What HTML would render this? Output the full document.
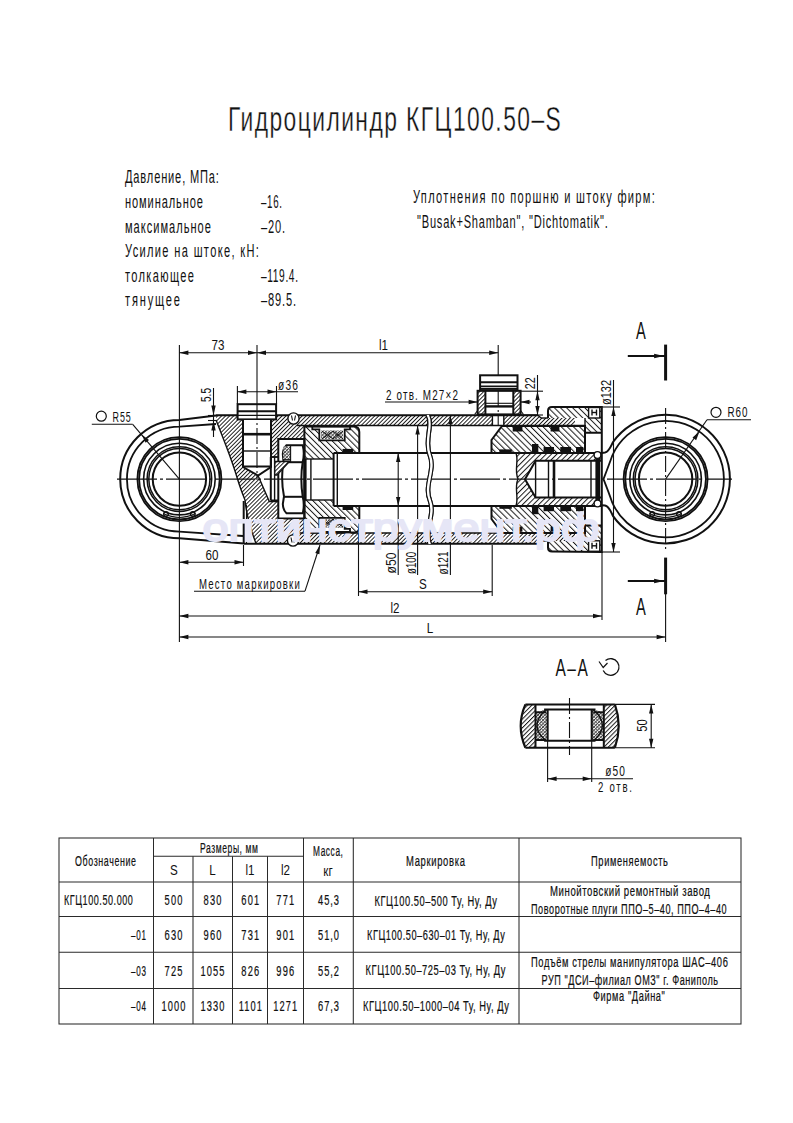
<!DOCTYPE html><html><head><meta charset="utf-8"><style>html,body{margin:0;padding:0;background:#fff;}svg{display:block;}text{font-family:"Liberation Sans",sans-serif;}</style></head><body>
<svg width="793" height="1123" viewBox="0 0 793 1123">
<defs>
<pattern id="hA" patternUnits="userSpaceOnUse" width="2.85" height="2.85" patternTransform="rotate(45)"><rect width="2.85" height="2.85" fill="#fff"/><rect x="0" y="0" width="0.95" height="2.85" fill="#1a1a1a"/></pattern>
<pattern id="hB" patternUnits="userSpaceOnUse" width="4.3" height="4.3" patternTransform="rotate(-45)"><rect width="4.3" height="4.3" fill="#fff"/><rect x="0" y="0" width="1.0" height="4.3" fill="#1a1a1a"/></pattern>
<pattern id="hC" patternUnits="userSpaceOnUse" width="3.8" height="3.8" patternTransform="rotate(45)"><rect width="3.8" height="3.8" fill="#fff"/><rect x="0" y="0" width="1.0" height="3.8" fill="#1a1a1a"/></pattern>
<pattern id="hE" patternUnits="userSpaceOnUse" width="3.1" height="3.1" patternTransform="rotate(45)"><rect width="3.1" height="3.1" fill="#fff"/><rect x="0" y="0" width="1.0" height="3.1" fill="#1a1a1a"/></pattern>
<pattern id="hF" patternUnits="userSpaceOnUse" width="2.4" height="2.4" patternTransform="rotate(45)"><rect width="2.4" height="2.4" fill="#fff"/><rect x="0" y="0" width="0.9" height="2.4" fill="#333"/><rect x="0" y="0" width="2.4" height="0.7" fill="#555"/></pattern>
<pattern id="hD" patternUnits="userSpaceOnUse" width="2.5" height="2.5"><rect width="2.5" height="2.5" fill="#fff"/><rect width="1" height="1" fill="#555"/></pattern>
</defs>
<text transform="translate(228.00 131.00) scale(0.654 1)" x="0" y="0" font-size="34.88" letter-spacing="2.212" fill="#111" stroke="#fff" stroke-width="0.35">Гидроцилиндр КГЦ100.50–S</text>
<text transform="translate(125.00 183.00) scale(0.620 1)" x="0" y="0" font-size="17.88" letter-spacing="1.363" fill="#111">Давление, МПа:</text>
<text transform="translate(125.00 208.00) scale(0.620 1)" x="0" y="0" font-size="17.88" letter-spacing="1.440" fill="#111">номинальное</text>
<text transform="translate(261.00 208.00) scale(0.543 1)" x="0" y="0" font-size="17.88" letter-spacing="1.289" fill="#111">–16.</text>
<text transform="translate(125.00 233.00) scale(0.620 1)" x="0" y="0" font-size="17.88" letter-spacing="1.618" fill="#111">максимальное</text>
<text transform="translate(261.00 233.00) scale(0.620 1)" x="0" y="0" font-size="17.88" letter-spacing="1.306" fill="#111">–20.</text>
<text transform="translate(125.00 257.00) scale(0.620 1)" x="0" y="0" font-size="17.88" letter-spacing="2.161" fill="#111">Усилие на штоке, кН:</text>
<text transform="translate(125.00 282.00) scale(0.620 1)" x="0" y="0" font-size="17.88" letter-spacing="2.171" fill="#111">толкающее</text>
<text transform="translate(261.00 282.00) scale(0.571 1)" x="0" y="0" font-size="17.88" letter-spacing="1.080" fill="#111">–119.4.</text>
<text transform="translate(125.00 306.00) scale(0.620 1)" x="0" y="0" font-size="17.88" letter-spacing="2.939" fill="#111">тянущее</text>
<text transform="translate(261.00 306.00) scale(0.620 1)" x="0" y="0" font-size="17.88" letter-spacing="1.350" fill="#111">–89.5.</text>
<text transform="translate(413.00 203.00) scale(0.620 1)" x="0" y="0" font-size="17.88" letter-spacing="2.109" fill="#111">Уплотнения по поршню и штоку фирм:</text>
<text transform="translate(417.00 228.00) scale(0.620 1)" x="0" y="0" font-size="17.88" letter-spacing="1.258" fill="#111">"Busak+Shamban", "Dichtomatik".</text>
<g stroke="#111" fill="none" stroke-linecap="butt">
<path d="M286 415 L538 415 L541 418 L575 418 L575 425.5 L286 425.5 Z" fill="url(#hA)" stroke="none"/>
<path d="M286 543.5 L538 543.5 L541 541 L575 541 L575 533 L286 533 Z" fill="url(#hA)" stroke="none"/>
<path d="M216 416 L243 416 L243 467 L258 475.5 L269.3 501.5 L278.3 501.5 L278.3 518.5 L304.4 518.5 L304.4 543.5 L256 543.5 C250 528 246 510 245 500 C241 490 239 484 237.5 479 C232 460 224 440 216 420 Z" fill="url(#hA)" stroke="none"/>
<path d="M271 416 L304.4 416 L304.4 439 L278.3 439 L278.3 457 L271 457 Z" fill="url(#hA)" stroke="none"/>
<path d="M304.4 426.5 L354 426.5 Q359.3 426.5 359.3 432 L359.3 452.9 L333.6 452.9 L333.6 459 L304.4 459 Z" fill="url(#hB)" stroke="none"/>
<path d="M304.4 532.5 L354 532.5 Q359.3 532.5 359.3 527 L359.3 506 L333.6 506 L333.6 500 L304.4 500 Z" fill="url(#hB)" stroke="none"/>
<path d="M491.5 452.9 L491.5 440 L502 426 L585 426 L585 452.9 Z" fill="url(#hB)" stroke="none"/>
<path d="M491.5 506 L491.5 519 L502 533 L585 533 L585 506 Z" fill="url(#hB)" stroke="none"/>
<path d="M516 452.9 L601.8 452.9 L601.8 460.8 L535.6 460.8 L525 479.3 L535.6 497.6 L601.8 497.6 L601.8 506 L516 506 C519 497 514 488 518 479 C514 470 519 461 516 452.9 Z" fill="url(#hC)" stroke="none"/>
<path d="M548 411 Q548 407 552 407 L601.8 407 L601.8 432.7 L585 432.7 L585 418 L548 418 Z" fill="url(#hB)" stroke="none"/>
<path d="M548 547.5 Q548 551.5 552 551.5 L601.8 551.5 L601.8 525.5 L585 525.5 L585 541 L548 541 Z" fill="url(#hB)" stroke="none"/>
<path d="M478.1 391 L485.2 391 L485.2 414.5 L478.1 414.5 Z" fill="url(#hA)" stroke="none"/>
<path d="M513.5 391 L520.3 391 L520.3 414.5 L513.5 414.5 Z" fill="url(#hA)" stroke="none"/>
<rect x="492.4" y="415.5" width="11.4" height="10" stroke-width="0" fill="#fff" stroke="none"/>
<path d="M312.3 426.3 L312.3 429.3 L319.3 429.3 L319.3 440.3 L344.7 440.3 L344.7 429.3 L350 429.3 L350 426.3 Z" stroke-width="1.8" fill="#fff"/>
<path d="M321 430.5 L343 430.5 L343 439 L321 439 Z" fill="url(#hF)" stroke="none"/>
<path d="M322 431 L333 439 L343 431 M322 439 L333 431 L343 439" stroke-width="1" fill="none"/>
<path d="M312.3 531.9 L312.3 528.9 L319.3 528.9 L319.3 517.9 L344.7 517.9 L344.7 528.9 L350 528.9 L350 531.9 Z" stroke-width="1.8" fill="#fff"/>
<path d="M321 527.7 L343 527.7 L343 519.2 L321 519.2 Z" fill="url(#hF)" stroke="none"/>
<path d="M322 527.2 L333 519.2 L343 527.2 M322 519.2 L333 527.2 L343 519.2" stroke-width="1" fill="none"/>
<line x1="216" y1="415.2" x2="538" y2="415.2" stroke-width="2"/>
<line x1="538" y1="415.2" x2="541" y2="418" stroke-width="1.4"/>
<line x1="541" y1="418" x2="548" y2="418" stroke-width="1.4"/>
<line x1="297" y1="425.5" x2="585" y2="425.5" stroke-width="1.4"/>
<line x1="244" y1="543.7" x2="538" y2="543.7" stroke-width="2"/>
<line x1="538" y1="543.7" x2="541" y2="541" stroke-width="1.4"/>
<line x1="541" y1="541" x2="548" y2="541" stroke-width="1.4"/>
<line x1="297" y1="533" x2="585" y2="533" stroke-width="1.4"/>
<circle cx="293.5" cy="418.5" r="5.6" stroke-width="1.4" fill="#fff"/>
<line x1="291.5" y1="415.5" x2="292.5" y2="420.5" stroke-width="1.1"/>
<line x1="295.5" y1="415.5" x2="294.5" y2="420.5" stroke-width="1.1"/>
<circle cx="293" cy="540.5" r="5.6" stroke-width="1.4" fill="#fff"/>
<line x1="291" y1="537.5" x2="292" y2="542.5" stroke-width="1.1"/>
<line x1="295" y1="537.5" x2="294" y2="542.5" stroke-width="1.1"/>
<path d="M216 420 C224 440 232 460 237.5 479 C239 484 241 490 245 500 C246 510 250 528 256 543.5" stroke-width="1.4" fill="none"/>
<line x1="243.7" y1="501" x2="243.7" y2="543.5" stroke-width="2"/>
<line x1="246.5" y1="505" x2="246.5" y2="543.5" stroke-width="1.1"/>
<rect x="237.6" y="404.2" width="38.5" height="15.2" stroke-width="2" fill="#fff"/>
<line x1="238" y1="411.3" x2="276" y2="411.3" stroke-width="2"/>
<line x1="238" y1="415.4" x2="276" y2="415.4" stroke-width="1.4"/>
<path d="M243 420 L243 467 L258 475.5 L271 467 L271 420" stroke-width="2" fill="#fff"/>
<line x1="243" y1="434.2" x2="271" y2="434.2" stroke-width="2.6"/>
<line x1="243" y1="451" x2="271" y2="451" stroke-width="1.4"/>
<line x1="243" y1="466.5" x2="271" y2="466.5" stroke-width="2"/>
<path d="M258 475.5 L269.3 501.5 L278.3 501.5" stroke-width="1.4" fill="none"/>
<path d="M271 467 L271 457 L278.3 457" stroke-width="1.4" fill="none"/>
<line x1="270.8" y1="457" x2="270.8" y2="500.5" stroke-width="2"/>
<line x1="274.6" y1="457" x2="274.6" y2="500.5" stroke-width="1.4"/>
<line x1="270.8" y1="500.5" x2="278.6" y2="500.5" stroke-width="2"/>
<line x1="270.8" y1="457" x2="278.3" y2="457" stroke-width="1.4"/>
<rect x="278.3" y="439" width="26.1" height="79.5" stroke-width="2" fill="#fff"/>
<path d="M286.5 445.2 L302.7 445.2 Q304.8 453.5 302.7 462 Q300 479 302.7 496.5 Q304.8 505 302.7 513.3 L286.5 513.3 Q283 510 282.8 504 L284 496.5 Q280.5 479 283.5 462 L282.8 454 Q283 449 286.5 445.2 Z" stroke-width="2" fill="none"/>
<line x1="283" y1="462.2" x2="303.5" y2="462.2" stroke-width="2"/>
<line x1="283" y1="496.8" x2="303.5" y2="496.8" stroke-width="2"/>
<path d="M283.5 446.5 L290.6 446.5 L290.6 459.6 L283.2 459.6 Z" fill="url(#hF)" stroke="none"/>
<path d="M274.8 461.5 L289.5 461.5 L277 475 L274.8 475 Z" fill="url(#hA)" stroke="#111" stroke-width="1.3"/>
<line x1="283" y1="459.8" x2="291" y2="459.8" stroke-width="1.4"/>
<line x1="290.6" y1="446" x2="290.6" y2="462" stroke-width="1.1"/>
<line x1="305.6" y1="459" x2="305.6" y2="500" stroke-width="2"/>
<line x1="310.9" y1="459" x2="310.9" y2="500" stroke-width="1.4"/>
<line x1="333.6" y1="453" x2="333.6" y2="506" stroke-width="2"/>
<line x1="337.3" y1="453" x2="337.3" y2="506" stroke-width="1.4"/>
<line x1="304.4" y1="459" x2="333.6" y2="459" stroke-width="1.4"/>
<line x1="304.4" y1="500" x2="333.6" y2="500" stroke-width="1.4"/>
<path d="M304.4 426.5 L354 426.5 Q359.3 426.5 359.3 432 L359.3 452.9" stroke-width="2" fill="none"/>
<path d="M304.4 532.5 L354 532.5 Q359.3 532.5 359.3 527 L359.3 506" stroke-width="2" fill="none"/>
<line x1="304.4" y1="425.5" x2="304.4" y2="533" stroke-width="2"/>
<rect x="342.6" y="448.9" width="10.6" height="4" stroke-width="0" fill="#111" stroke="none"/>
<rect x="342.6" y="506" width="10.6" height="4" stroke-width="0" fill="#111" stroke="none"/>
<line x1="333.6" y1="452.9" x2="602" y2="452.9" stroke-width="2"/>
<line x1="333.6" y1="506" x2="602" y2="506" stroke-width="2"/>
<path d="M491.5 452.9 L491.5 440 L502 426 L585 426 L585 452.9" stroke-width="2" fill="none"/>
<path d="M491.5 506 L491.5 519 L502 533 L585 533 L585 506" stroke-width="2" fill="none"/>
<rect x="512.7" y="426.5" width="9.7" height="5" stroke-width="0" fill="#111" stroke="none"/>
<rect x="512.7" y="526.7" width="9.7" height="5" stroke-width="0" fill="#111" stroke="none"/>
<rect x="550.6" y="426.5" width="8.8" height="5" stroke-width="0" fill="#111" stroke="none"/>
<rect x="550.6" y="526.7" width="8.8" height="5" stroke-width="0" fill="#111" stroke="none"/>
<rect x="499.4" y="449.4" width="12.4" height="3.5" stroke-width="0" fill="#111" stroke="none"/>
<rect x="499.4" y="505.3" width="12.4" height="3.5" stroke-width="0" fill="#111" stroke="none"/>
<rect x="532" y="444" width="6.3" height="9" stroke-width="0" fill="#111" stroke="none"/>
<rect x="532" y="505.2" width="6.3" height="9" stroke-width="0" fill="#111" stroke="none"/>
<rect x="543.6" y="447" width="10.4" height="6" stroke-width="0" fill="#111" stroke="none"/>
<rect x="543.6" y="505.2" width="10.4" height="6" stroke-width="0" fill="#111" stroke="none"/>
<rect x="560.3" y="447" width="10.7" height="6" stroke-width="0" fill="#111" stroke="none"/>
<rect x="560.3" y="505.2" width="10.7" height="6" stroke-width="0" fill="#111" stroke="none"/>
<rect x="576" y="447" width="7.3" height="6" stroke-width="0" fill="#111" stroke="none"/>
<rect x="576" y="505.2" width="7.3" height="6" stroke-width="0" fill="#111" stroke="none"/>
<path d="M516 452.9 C519 461 514 470 518 479 C514 488 519 497 516 506" stroke-width="1.4" fill="none"/>
<path d="M601.8 460.8 L535.6 460.8 L525 479.3 L535.6 497.6 L601.8 497.6" stroke-width="2" fill="none"/>
<line x1="535.6" y1="460.8" x2="535.6" y2="497.6" stroke-width="1.4"/>
<line x1="548.5" y1="460.8" x2="548.5" y2="497.6" stroke-width="1.4"/>
<line x1="554" y1="460.8" x2="554" y2="497.6" stroke-width="2.6"/>
<line x1="591" y1="460.8" x2="591" y2="497.6" stroke-width="1.4"/>
<line x1="597.8" y1="456" x2="597.8" y2="503" stroke-width="4.8"/>
<circle cx="597.5" cy="455" r="3.4" stroke-width="1.4" fill="#fff"/>
<circle cx="597.5" cy="503.5" r="3.4" stroke-width="1.4" fill="#fff"/>
<path d="M585 432.7 L601.8 432.7 M548 418 L548 411 Q548 407 552 407 L601.8 407 L601.8 552 L552 551.5 Q548 551.5 548 547.5 L548 541" stroke-width="2" fill="none"/>
<line x1="585" y1="418" x2="585" y2="452.9" stroke-width="1.4"/>
<line x1="585" y1="506" x2="585" y2="541" stroke-width="1.4"/>
<line x1="585" y1="525.5" x2="601.8" y2="525.5" stroke-width="2"/>
<rect x="588.6" y="407.5" width="11.2" height="10.5" stroke-width="1.4" fill="#fff"/>
<line x1="592" y1="409.5" x2="592" y2="415.5" stroke-width="1.4"/>
<line x1="596.5" y1="409.5" x2="596.5" y2="415.5" stroke-width="1.4"/>
<line x1="592" y1="412.5" x2="596.5" y2="412.5" stroke-width="1.4"/>
<rect x="588.6" y="540.8" width="11.2" height="10.5" stroke-width="1.4" fill="#fff"/>
<line x1="592" y1="542.8" x2="592" y2="548.8" stroke-width="1.4"/>
<line x1="596.5" y1="542.8" x2="596.5" y2="548.8" stroke-width="1.4"/>
<line x1="592" y1="545.8" x2="596.5" y2="545.8" stroke-width="1.4"/>
<rect x="480.1" y="375.3" width="37.4" height="15" stroke-width="2" fill="#fff"/>
<line x1="480.5" y1="382.2" x2="517" y2="382.2" stroke-width="2"/>
<line x1="480.5" y1="386.2" x2="517" y2="386.2" stroke-width="1.4"/>
<line x1="480.5" y1="388.7" x2="517" y2="388.7" stroke-width="2"/>
<rect x="477.6" y="390.8" width="43" height="23.6" stroke-width="2" fill="none"/>
<line x1="485.4" y1="391" x2="485.4" y2="414.5" stroke-width="2"/>
<line x1="513.3" y1="391" x2="513.3" y2="414.5" stroke-width="2"/>
<line x1="485.4" y1="406.4" x2="513.3" y2="406.4" stroke-width="2.4"/>
<line x1="485.4" y1="403.3" x2="513.3" y2="403.3" stroke-width="1.1"/>
<path d="M474.6 414.5 L478 410 M523.5 414.5 L520.3 410" stroke-width="1.1" fill="none"/>
<line x1="492.4" y1="415.5" x2="492.4" y2="425.5" stroke-width="1.4"/>
<line x1="503.8" y1="415.5" x2="503.8" y2="425.5" stroke-width="1.4"/>
<path d="M426 415 C432 425 422 440 428 455 C434 470 422 485 428 500 C434 515 422 530 428 544" stroke-width="1.1" fill="none"/>
<path d="M429.5 415 C435.5 425 425.5 440 431.5 455 C437.5 470 425.5 485 431.5 500 C437.5 515 425.5 530 431.5 544" stroke-width="1.1" fill="none"/>
<circle cx="179.4" cy="479.1" r="40.3" stroke-width="1.8" fill="none"/>
<circle cx="179.4" cy="479.1" r="42" stroke-width="1.8" fill="none"/>
<circle cx="179.4" cy="479.1" r="35.8" stroke-width="1.6" fill="none"/>
<circle cx="179.4" cy="479.1" r="32.3" stroke-width="1.5" fill="none"/>
<circle cx="179.4" cy="479.1" r="30.6" stroke-width="1.5" fill="none"/>
<circle cx="179.4" cy="479.1" r="26.7" stroke-width="2" fill="none"/>
<circle cx="166" cy="514" r="2.3" stroke-width="1.4" fill="none"/>
<circle cx="192.8" cy="514" r="2.3" stroke-width="1.4" fill="none"/>
<path d="M163.4 513.6 A 37 37 0 0 0 195.4 513.6" stroke-width="1.1" fill="none"/>
<circle cx="665.6" cy="479.1" r="40.3" stroke-width="1.8" fill="none"/>
<circle cx="665.6" cy="479.1" r="42" stroke-width="1.8" fill="none"/>
<circle cx="665.6" cy="479.1" r="35.8" stroke-width="1.6" fill="none"/>
<circle cx="665.6" cy="479.1" r="32.3" stroke-width="1.5" fill="none"/>
<circle cx="665.6" cy="479.1" r="30.6" stroke-width="1.5" fill="none"/>
<circle cx="665.6" cy="479.1" r="26.7" stroke-width="2" fill="none"/>
<circle cx="652.2" cy="514" r="2.3" stroke-width="1.4" fill="none"/>
<circle cx="679" cy="514" r="2.3" stroke-width="1.4" fill="none"/>
<path d="M649.6 513.6 A 37 37 0 0 0 681.6 513.6" stroke-width="1.1" fill="none"/>
<path d="M216 415.5 L179.4 419.9 A 1 1 0 0 0 179.4 538.3 L244 543.5" stroke-width="2" fill="none"/>
<path d="M216 424 L179.4 426.7 A 1 1 0 0 0 179.4 531.6 L243 536" stroke-width="1.8" fill="none"/>
<path d="M602 452.9 L605 452.6 C609 452 611 446 612.9 442.3 A 64.3 64.3 0 1 1 612.9 515.9 C611 512 609 506 605 505.6 L602 505.3" stroke-width="2" fill="none"/>
<path d="M603.5 479.1 C607 470 610 462 612.3 455.5 A 58.3 58.3 0 1 1 612.3 502.7 C610 496 607 488 603.5 479.1" stroke-width="1.8" fill="none"/>
<g stroke-dasharray="40 3 3 3">
<line x1="117" y1="479.1" x2="732" y2="479.1" stroke-width="1.1"/>
</g>
<line x1="179.4" y1="345" x2="179.4" y2="642" stroke-width="1.1"/>
<g stroke-dasharray="16 3 2 3">
<line x1="665.6" y1="408" x2="665.6" y2="550" stroke-width="1.1"/>
<line x1="257" y1="404" x2="257" y2="480" stroke-width="1.1"/>
<line x1="498.2" y1="391" x2="498.2" y2="426" stroke-width="1.1"/>
<line x1="569.5" y1="698" x2="569.5" y2="755" stroke-width="1.1"/>
</g>
<line x1="665.6" y1="560" x2="665.6" y2="642" stroke-width="1.1"/>
<line x1="179.4" y1="352.7" x2="498.2" y2="352.7" stroke-width="1.1"/>
<path d="M179.40 352.70 L188.40 350.50 L188.40 354.90 Z" fill="#111" stroke="none"/>
<path d="M257.00 352.70 L248.00 354.90 L248.00 350.50 Z" fill="#111" stroke="none"/>
<path d="M257.00 352.70 L266.00 350.50 L266.00 354.90 Z" fill="#111" stroke="none"/>
<path d="M498.20 352.70 L489.20 354.90 L489.20 350.50 Z" fill="#111" stroke="none"/>
<line x1="257" y1="345" x2="257" y2="404" stroke-width="1.1"/>
<line x1="498.2" y1="345" x2="498.2" y2="375" stroke-width="1.1"/>
<line x1="237.4" y1="386" x2="237.4" y2="404" stroke-width="1.1"/>
<line x1="276.5" y1="386" x2="276.5" y2="404" stroke-width="1.1"/>
<line x1="237.4" y1="391.8" x2="298" y2="391.8" stroke-width="1.1"/>
<path d="M237.40 391.80 L246.40 389.60 L246.40 394.00 Z" fill="#111" stroke="none"/>
<path d="M276.50 391.80 L267.50 394.00 L267.50 389.60 Z" fill="#111" stroke="none"/>
<line x1="213.5" y1="388" x2="213.5" y2="437" stroke-width="1.1"/>
<path d="M213.50 415.50 L211.30 405.50 L215.70 405.50 Z" fill="#111" stroke="none"/>
<path d="M213.50 420.50 L215.70 430.50 L211.30 430.50 Z" fill="#111" stroke="none"/>
<line x1="208" y1="415.5" x2="237.4" y2="415.5" stroke-width="1.1"/>
<line x1="208" y1="420.5" x2="216" y2="420.5" stroke-width="1.1"/>
<line x1="385" y1="402" x2="478" y2="402" stroke-width="1.1"/>
<path d="M477.60 402.00 L468.60 404.20 L468.60 399.80 Z" fill="#111" stroke="none"/>
<line x1="520.5" y1="402" x2="531" y2="402" stroke-width="1.1"/>
<path d="M520.50 402.00 L529.50 399.80 L529.50 404.20 Z" fill="#111" stroke="none"/>
<line x1="521" y1="391.2" x2="543" y2="391.2" stroke-width="1.1"/>
<line x1="521" y1="415" x2="543" y2="415" stroke-width="1.1"/>
<line x1="537.5" y1="375" x2="537.5" y2="416" stroke-width="1.1"/>
<path d="M537.50 391.20 L539.70 400.20 L535.30 400.20 Z" fill="#111" stroke="none"/>
<path d="M537.50 415.00 L535.30 406.00 L539.70 406.00 Z" fill="#111" stroke="none"/>
<line x1="602" y1="407" x2="620" y2="407" stroke-width="1.1"/>
<line x1="602" y1="552" x2="620" y2="552" stroke-width="1.1"/>
<line x1="613.5" y1="380" x2="613.5" y2="552" stroke-width="1.1"/>
<path d="M613.50 407.00 L615.70 416.00 L611.30 416.00 Z" fill="#111" stroke="none"/>
<path d="M613.50 552.00 L611.30 543.00 L615.70 543.00 Z" fill="#111" stroke="none"/>
<line x1="243.5" y1="545" x2="243.5" y2="566" stroke-width="1.1"/>
<line x1="179.4" y1="562.2" x2="243.5" y2="562.2" stroke-width="1.1"/>
<path d="M179.40 562.20 L188.40 560.00 L188.40 564.40 Z" fill="#111" stroke="none"/>
<path d="M243.50 562.20 L234.50 564.40 L234.50 560.00 Z" fill="#111" stroke="none"/>
<line x1="398.2" y1="452.9" x2="398.2" y2="575" stroke-width="1.1"/>
<path d="M398.20 452.90 L400.40 461.90 L396.00 461.90 Z" fill="#111" stroke="none"/>
<path d="M398.20 506.00 L396.00 497.00 L400.40 497.00 Z" fill="#111" stroke="none"/>
<line x1="417.6" y1="425.5" x2="417.6" y2="575" stroke-width="1.1"/>
<path d="M417.60 425.50 L419.80 434.50 L415.40 434.50 Z" fill="#111" stroke="none"/>
<line x1="450.4" y1="415.2" x2="450.4" y2="575" stroke-width="1.1"/>
<path d="M450.40 415.20 L452.60 424.20 L448.20 424.20 Z" fill="#111" stroke="none"/>
<line x1="358.5" y1="533" x2="358.5" y2="596" stroke-width="1.1"/>
<line x1="492.2" y1="545" x2="492.2" y2="596" stroke-width="1.1"/>
<line x1="358.5" y1="591.8" x2="492.2" y2="591.8" stroke-width="1.1"/>
<path d="M358.50 591.80 L367.50 589.60 L367.50 594.00 Z" fill="#111" stroke="none"/>
<path d="M492.20 591.80 L483.20 594.00 L483.20 589.60 Z" fill="#111" stroke="none"/>
<line x1="602" y1="552" x2="602" y2="620" stroke-width="1.1"/>
<line x1="179.4" y1="616" x2="602" y2="616" stroke-width="1.1"/>
<path d="M179.40 616.00 L188.40 613.80 L188.40 618.20 Z" fill="#111" stroke="none"/>
<path d="M602.00 616.00 L593.00 618.20 L593.00 613.80 Z" fill="#111" stroke="none"/>
<line x1="179.4" y1="637" x2="665.6" y2="637" stroke-width="1.1"/>
<path d="M179.40 637.00 L188.40 634.80 L188.40 639.20 Z" fill="#111" stroke="none"/>
<path d="M665.60 637.00 L656.60 639.20 L656.60 634.80 Z" fill="#111" stroke="none"/>
<line x1="194" y1="591.2" x2="305" y2="591.2" stroke-width="1.1"/>
<line x1="305" y1="591.2" x2="320" y2="545" stroke-width="1.1"/>
<path d="M320.00 545.00 L319.44 554.25 L315.23 552.94 Z" fill="#111" stroke="none"/>
<line x1="91.8" y1="424.3" x2="132.7" y2="424.3" stroke-width="1.1"/>
<line x1="132.7" y1="424.3" x2="179.4" y2="479.1" stroke-width="1.1"/>
<path d="M141.50 434.50 L149.01 439.93 L145.65 442.78 Z" fill="#111" stroke="none"/>
<circle cx="101.3" cy="416.2" r="5" stroke-width="1.2" fill="none"/>
<line x1="707" y1="419.8" x2="751" y2="419.8" stroke-width="1.1"/>
<line x1="707" y1="419.8" x2="665.6" y2="479.1" stroke-width="1.1"/>
<path d="M699.50 431.50 L696.12 440.13 L692.52 437.59 Z" fill="#111" stroke="none"/>
<circle cx="716" cy="412.3" r="5" stroke-width="1.2" fill="none"/>
<line x1="665.6" y1="344.6" x2="665.6" y2="380.5" stroke-width="3"/>
<line x1="627.8" y1="356" x2="665.6" y2="356" stroke-width="1.8"/>
<path d="M664.10 356.00 L654.10 358.30 L654.10 353.70 Z" fill="#111" stroke="none"/>
<line x1="665.6" y1="557.6" x2="665.6" y2="594.3" stroke-width="3"/>
<line x1="627.8" y1="581" x2="665.6" y2="581" stroke-width="1.8"/>
<path d="M664.10 581.00 L654.10 583.30 L654.10 578.70 Z" fill="#111" stroke="none"/>
<path d="M525.4 704.4 Q516 726 525.4 747.7 L535.5 747.7 L535.5 704.4 Z" fill="url(#hE)" stroke="none"/>
<path d="M614.9 704.4 Q622.5 726 614.9 747.7 L603.8 747.7 L603.8 704.4 Z" fill="url(#hE)" stroke="none"/>
<path d="M536 712.3 L546 709.6 L547.6 709.6 L547.6 740.8 L546 740.8 L536 740 Z" fill="url(#hF)" stroke="none"/>
<path d="M603.3 712.3 L593.3 709.6 L591.7 709.6 L591.7 740.8 L593.3 740.8 L603.3 740 Z" fill="url(#hF)" stroke="none"/>
<path d="M525.4 704.4 Q516 726 525.4 747.7 M614.9 704.4 Q622.5 726 614.9 747.7" stroke-width="2.2" fill="none"/>
<line x1="525.4" y1="704.4" x2="614.9" y2="704.4" stroke-width="2"/>
<line x1="525.4" y1="747.7" x2="614.9" y2="747.7" stroke-width="2"/>
<line x1="614.9" y1="704.4" x2="655" y2="704.4" stroke-width="1.1"/>
<line x1="614.9" y1="747.7" x2="655" y2="747.7" stroke-width="1.1"/>
<line x1="535.5" y1="704.4" x2="535.5" y2="747.7" stroke-width="2"/>
<line x1="603.8" y1="704.4" x2="603.8" y2="747.7" stroke-width="2"/>
<line x1="535.5" y1="712.3" x2="546" y2="712.3" stroke-width="2"/>
<line x1="535.5" y1="740" x2="546" y2="740" stroke-width="2"/>
<line x1="593.3" y1="712.3" x2="603.8" y2="712.3" stroke-width="2"/>
<line x1="593.3" y1="740" x2="603.8" y2="740" stroke-width="2"/>
<path d="M544.1 709.6 L595.5 709.6 M544.1 740.8 L595.5 740.8" stroke-width="2" fill="none"/>
<path d="M546 709.6 Q528 726 546 740.8 M593.3 709.6 Q611.5 726 593.3 740.8" stroke-width="1.4" fill="none"/>
<line x1="547.6" y1="709.6" x2="547.6" y2="782" stroke-width="1.1"/>
<line x1="591.7" y1="709.6" x2="591.7" y2="782" stroke-width="1.1"/>
<line x1="547.6" y1="709.6" x2="547.6" y2="740.8" stroke-width="2"/>
<line x1="591.7" y1="709.6" x2="591.7" y2="740.8" stroke-width="2"/>
<line x1="651.2" y1="704.4" x2="651.2" y2="747.7" stroke-width="1.1"/>
<path d="M651.20 704.40 L653.40 713.40 L649.00 713.40 Z" fill="#111" stroke="none"/>
<path d="M651.20 747.70 L649.00 738.70 L653.40 738.70 Z" fill="#111" stroke="none"/>
<line x1="547.6" y1="778.7" x2="633" y2="778.7" stroke-width="1.1"/>
<path d="M547.60 778.70 L556.60 776.50 L556.60 780.90 Z" fill="#111" stroke="none"/>
<path d="M591.70 778.70 L582.70 780.90 L582.70 776.50 Z" fill="#111" stroke="none"/>
<path d="M603.2 670.5 A 8.3 8.3 0 1 0 605.5 660.5" stroke-width="1.3" fill="none"/>
<path d="M599 661.5 L603.2 667.5 L607.5 663" stroke-width="1.2" fill="none"/>
</g>
<path d="M426 415 C432 425 422 440 428 455 C434 470 422 485 428 500 C434 515 422 530 428 544 L431.5 544 C425.5 530 437.5 515 431.5 500 C425.5 485 437.5 470 431.5 455 C425.5 440 435.5 425 429.5 415 Z" fill="#fff" stroke="none"/>
<g stroke="#111" fill="none">
<path d="M426 415 C432 425 422 440 428 455 C434 470 422 485 428 500 C434 515 422 530 428 544" stroke-width="1.1" fill="none"/>
<path d="M429.5 415 C435.5 425 425.5 440 431.5 455 C437.5 470 425.5 485 431.5 500 C437.5 515 425.5 530 431.5 544" stroke-width="1.1" fill="none"/>
</g>
<text x="202.5" y="541.2" font-size="38" textLength="397" lengthAdjust="spacingAndGlyphs" fill="#e6e6f6" stroke="#e6e6f6" stroke-width="1.9" stroke-linejoin="round">оптинструмент.рф</text>
<text x="211.53" y="350.00" font-size="14.53" textLength="12.93" lengthAdjust="spacingAndGlyphs" fill="#111">73</text>
<text x="378.98" y="350.00" font-size="14.53" textLength="9.05" lengthAdjust="spacingAndGlyphs" fill="#111">l1</text>
<text transform="translate(278.00 389.50) scale(0.700 1)" x="0" y="0" font-size="14.53" letter-spacing="1.764" fill="#111">ø36</text>
<text transform="translate(386.00 400.00) scale(0.680 1)" x="0" y="0" font-size="14.53" letter-spacing="1.700" fill="#111">2 отв. M27×2</text>
<text x="-7.00" y="0.00" font-size="14.53" textLength="14.00" lengthAdjust="spacingAndGlyphs" fill="#111" transform="translate(211,395) rotate(-90)">5.5</text>
<text x="-6.00" y="0.00" font-size="14.53" textLength="12.00" lengthAdjust="spacingAndGlyphs" fill="#111" transform="translate(534.8,383.2) rotate(-90)">22</text>
<text x="-12.50" y="0.00" font-size="14.53" textLength="25.00" lengthAdjust="spacingAndGlyphs" fill="#111" transform="translate(611,392.5) rotate(-90)">ø132</text>
<text x="-10.50" y="0.00" font-size="14.53" textLength="21.00" lengthAdjust="spacingAndGlyphs" fill="#111" transform="translate(396,563) rotate(-90)">ø50</text>
<text x="-11.00" y="0.00" font-size="14.53" textLength="22.00" lengthAdjust="spacingAndGlyphs" fill="#111" transform="translate(415.5,563) rotate(-90)">ø100</text>
<text x="-11.50" y="0.00" font-size="14.53" textLength="23.00" lengthAdjust="spacingAndGlyphs" fill="#111" transform="translate(448,563) rotate(-90)">ø121</text>
<text x="205.53" y="559.50" font-size="14.53" textLength="12.93" lengthAdjust="spacingAndGlyphs" fill="#111">60</text>
<text transform="translate(199.00 589.00) scale(0.660 1)" x="0" y="0" font-size="14.53" letter-spacing="1.853" fill="#111">Место маркировки</text>
<text x="419.12" y="588.50" font-size="14.53" textLength="7.76" lengthAdjust="spacingAndGlyphs" fill="#111">S</text>
<text x="390.48" y="612.50" font-size="14.53" textLength="9.05" lengthAdjust="spacingAndGlyphs" fill="#111">l2</text>
<text x="426.77" y="633.00" font-size="14.53" textLength="6.47" lengthAdjust="spacingAndGlyphs" fill="#111">L</text>
<text transform="translate(112.60 421.50) scale(0.614 1)" x="0" y="0" font-size="14.53" letter-spacing="1.481" fill="#111">R55</text>
<text transform="translate(727.50 416.60) scale(0.678 1)" x="0" y="0" font-size="14.53" letter-spacing="1.481" fill="#111">R60</text>
<text x="636.10" y="339.00" font-size="23.98" textLength="9.80" lengthAdjust="spacingAndGlyphs" fill="#111">A</text>
<text x="636.10" y="614.50" font-size="23.98" textLength="9.80" lengthAdjust="spacingAndGlyphs" fill="#111">A</text>
<text transform="translate(555.40 675.60) scale(0.645 1)" x="0" y="0" font-size="23.98" letter-spacing="2.518" fill="#111">A–A</text>
<text x="-6.25" y="0.00" font-size="14.53" textLength="12.50" lengthAdjust="spacingAndGlyphs" fill="#111" transform="translate(647,725.5) rotate(-90)">50</text>
<text transform="translate(605.20 775.50) scale(0.700 1)" x="0" y="0" font-size="14.53" letter-spacing="1.621" fill="#111">ø50</text>
<text transform="translate(598.00 792.00) scale(0.660 1)" x="0" y="0" font-size="14.53" letter-spacing="2.643" fill="#111">2 отв.</text>
<g stroke="#2a2a2a" fill="none">
<rect x="59" y="838" width="682" height="186" stroke-width="1.05" fill="none"/>
<line x1="59" y1="882" x2="741" y2="882" stroke-width="1.05"/>
<line x1="59" y1="916.5" x2="741" y2="916.5" stroke-width="1.05"/>
<line x1="59" y1="952.3" x2="741" y2="952.3" stroke-width="1.05"/>
<line x1="59" y1="988.5" x2="741" y2="988.5" stroke-width="1.05"/>
<line x1="153.5" y1="838" x2="153.5" y2="1024" stroke-width="1.05"/>
<line x1="303.5" y1="838" x2="303.5" y2="1024" stroke-width="1.05"/>
<line x1="353.3" y1="838" x2="353.3" y2="1024" stroke-width="1.05"/>
<line x1="519" y1="838" x2="519" y2="1024" stroke-width="1.05"/>
<line x1="153.5" y1="856.3" x2="303.5" y2="856.3" stroke-width="1.05"/>
<line x1="193" y1="856.3" x2="193" y2="1024" stroke-width="1.05"/>
<line x1="232.5" y1="856.3" x2="232.5" y2="1024" stroke-width="1.05"/>
<line x1="267.5" y1="856.3" x2="267.5" y2="1024" stroke-width="1.05"/>
</g>
<text transform="translate(75.00 866.00) scale(0.611 1)" x="0" y="0" font-size="14.53" letter-spacing="0.999" fill="#111" stroke="#111" stroke-width="0.22">Обозначение</text>
<text transform="translate(200.00 852.50) scale(0.590 1)" x="0" y="0" font-size="14.53" letter-spacing="0.983" fill="#111" stroke="#111" stroke-width="0.22">Размеры, мм</text>
<text x="170.12" y="874.50" font-size="14.53" textLength="7.76" lengthAdjust="spacingAndGlyphs" fill="#111">S</text>
<text x="209.27" y="874.50" font-size="14.53" textLength="6.47" lengthAdjust="spacingAndGlyphs" fill="#111">L</text>
<text x="245.48" y="874.50" font-size="14.53" textLength="9.05" lengthAdjust="spacingAndGlyphs" fill="#111">l1</text>
<text x="280.98" y="874.50" font-size="14.53" textLength="9.05" lengthAdjust="spacingAndGlyphs" fill="#111">l2</text>
<text transform="translate(313.00 856.00) scale(0.574 1)" x="0" y="0" font-size="14.53" letter-spacing="1.045" fill="#111" stroke="#111" stroke-width="0.22">Масса,</text>
<text x="323.34" y="875.50" font-size="14.53" textLength="9.33" lengthAdjust="spacingAndGlyphs" fill="#111">кг</text>
<text transform="translate(406.00 866.00) scale(0.651 1)" x="0" y="0" font-size="14.53" letter-spacing="1.007" fill="#111" stroke="#111" stroke-width="0.22">Маркировка</text>
<text transform="translate(591.00 866.00) scale(0.640 1)" x="0" y="0" font-size="14.53" letter-spacing="1.003" fill="#111" stroke="#111" stroke-width="0.22">Применяемость</text>
<text transform="translate(64.00 905.00) scale(0.622 1)" x="0" y="0" font-size="14.53" letter-spacing="0.924" fill="#111" stroke="#111" stroke-width="0.22">КГЦ100.50.000</text>
<text transform="translate(164.53 905.00) scale(0.640 1)" x="0" y="0" font-size="14.53" letter-spacing="1.894" fill="#111" stroke="#111" stroke-width="0.22">500</text>
<text transform="translate(203.53 905.00) scale(0.640 1)" x="0" y="0" font-size="14.53" letter-spacing="1.894" fill="#111" stroke="#111" stroke-width="0.22">830</text>
<text transform="translate(241.33 905.00) scale(0.640 1)" x="0" y="0" font-size="14.53" letter-spacing="1.894" fill="#111" stroke="#111" stroke-width="0.22">601</text>
<text transform="translate(276.33 905.00) scale(0.640 1)" x="0" y="0" font-size="14.53" letter-spacing="1.894" fill="#111" stroke="#111" stroke-width="0.22">771</text>
<text transform="translate(318.03 905.00) scale(0.640 1)" x="0" y="0" font-size="14.53" letter-spacing="1.473" fill="#111" stroke="#111" stroke-width="0.22">45,3</text>
<text transform="translate(164.53 940.00) scale(0.640 1)" x="0" y="0" font-size="14.53" letter-spacing="1.894" fill="#111" stroke="#111" stroke-width="0.22">630</text>
<text transform="translate(203.53 940.00) scale(0.640 1)" x="0" y="0" font-size="14.53" letter-spacing="1.894" fill="#111" stroke="#111" stroke-width="0.22">960</text>
<text transform="translate(241.33 940.00) scale(0.640 1)" x="0" y="0" font-size="14.53" letter-spacing="1.894" fill="#111" stroke="#111" stroke-width="0.22">731</text>
<text transform="translate(276.33 940.00) scale(0.640 1)" x="0" y="0" font-size="14.53" letter-spacing="1.894" fill="#111" stroke="#111" stroke-width="0.22">901</text>
<text transform="translate(318.03 940.00) scale(0.640 1)" x="0" y="0" font-size="14.53" letter-spacing="1.473" fill="#111" stroke="#111" stroke-width="0.22">51,0</text>
<text transform="translate(164.53 975.50) scale(0.640 1)" x="0" y="0" font-size="14.53" letter-spacing="1.894" fill="#111" stroke="#111" stroke-width="0.22">725</text>
<text transform="translate(200.54 975.50) scale(0.640 1)" x="0" y="0" font-size="14.53" letter-spacing="1.684" fill="#111" stroke="#111" stroke-width="0.22">1055</text>
<text transform="translate(241.33 975.50) scale(0.640 1)" x="0" y="0" font-size="14.53" letter-spacing="1.894" fill="#111" stroke="#111" stroke-width="0.22">826</text>
<text transform="translate(276.33 975.50) scale(0.640 1)" x="0" y="0" font-size="14.53" letter-spacing="1.894" fill="#111" stroke="#111" stroke-width="0.22">996</text>
<text transform="translate(318.03 975.50) scale(0.640 1)" x="0" y="0" font-size="14.53" letter-spacing="1.473" fill="#111" stroke="#111" stroke-width="0.22">55,2</text>
<text transform="translate(161.54 1011.00) scale(0.640 1)" x="0" y="0" font-size="14.53" letter-spacing="1.684" fill="#111" stroke="#111" stroke-width="0.22">1000</text>
<text transform="translate(200.54 1011.00) scale(0.640 1)" x="0" y="0" font-size="14.53" letter-spacing="1.684" fill="#111" stroke="#111" stroke-width="0.22">1330</text>
<text transform="translate(238.74 1011.00) scale(0.640 1)" x="0" y="0" font-size="14.53" letter-spacing="1.628" fill="#111" stroke="#111" stroke-width="0.22">1101</text>
<text transform="translate(273.34 1011.00) scale(0.640 1)" x="0" y="0" font-size="14.53" letter-spacing="1.684" fill="#111" stroke="#111" stroke-width="0.22">1271</text>
<text transform="translate(318.03 1011.00) scale(0.640 1)" x="0" y="0" font-size="14.53" letter-spacing="1.473" fill="#111" stroke="#111" stroke-width="0.22">67,3</text>
<text transform="translate(131.00 940.00) scale(0.557 1)" x="0" y="0" font-size="14.53" letter-spacing="1.347" fill="#111" stroke="#111" stroke-width="0.22">–01</text>
<text transform="translate(131.00 975.50) scale(0.557 1)" x="0" y="0" font-size="14.53" letter-spacing="1.347" fill="#111" stroke="#111" stroke-width="0.22">–03</text>
<text transform="translate(131.00 1011.00) scale(0.557 1)" x="0" y="0" font-size="14.53" letter-spacing="1.347" fill="#111" stroke="#111" stroke-width="0.22">–04</text>
<text transform="translate(374.50 905.50) scale(0.643 1)" x="0" y="0" font-size="14.53" letter-spacing="0.829" fill="#111" stroke="#111" stroke-width="0.22">КГЦ100.50–500 Ту, Ну, Ду</text>
<text transform="translate(367.00 939.50) scale(0.634 1)" x="0" y="0" font-size="14.53" letter-spacing="0.837" fill="#111" stroke="#111" stroke-width="0.22">КГЦ100.50–630–01 Ту, Ну, Ду</text>
<text transform="translate(365.60 975.20) scale(0.643 1)" x="0" y="0" font-size="14.53" letter-spacing="0.837" fill="#111" stroke="#111" stroke-width="0.22">КГЦ100.50–725–03 Ту, Ну, Ду</text>
<text transform="translate(363.00 1010.50) scale(0.644 1)" x="0" y="0" font-size="14.53" letter-spacing="0.840" fill="#111" stroke="#111" stroke-width="0.22">КГЦ100.50–1000–04 Ту, Ну, Ду</text>
<text transform="translate(550.00 895.50) scale(0.659 1)" x="0" y="0" font-size="14.53" letter-spacing="0.900" fill="#111" stroke="#111" stroke-width="0.22">Минойтовский ремонтный завод</text>
<text transform="translate(531.00 914.00) scale(0.626 1)" x="0" y="0" font-size="14.53" letter-spacing="0.920" fill="#111" stroke="#111" stroke-width="0.22">Поворотные плуги ППО–5–40, ППО–4–40</text>
<text transform="translate(531.00 966.50) scale(0.643 1)" x="0" y="0" font-size="14.53" letter-spacing="0.929" fill="#111" stroke="#111" stroke-width="0.22">Подъём стрелы манипулятора ШАС–406</text>
<text transform="translate(541.50 985.00) scale(0.625 1)" x="0" y="0" font-size="14.53" letter-spacing="0.912" fill="#111" stroke="#111" stroke-width="0.22">РУП "ДСИ–филиал ОМЗ" г. Фаниполь</text>
<text transform="translate(593.00 1001.00) scale(0.636 1)" x="0" y="0" font-size="14.53" letter-spacing="0.943" fill="#111" stroke="#111" stroke-width="0.22">Фирма "Дайна"</text>
</svg></body></html>
